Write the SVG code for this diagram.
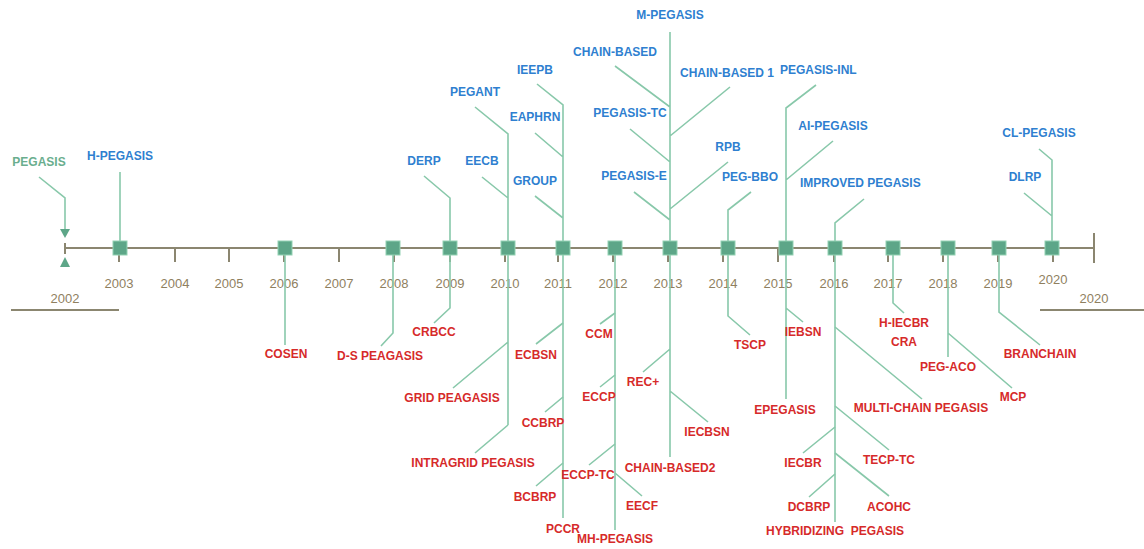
<svg xmlns="http://www.w3.org/2000/svg" width="1144" height="549" viewBox="0 0 1144 549">
  <style>
    text { font-family: "Liberation Sans", Arial, sans-serif; font-weight: bold; font-size: 12px; text-anchor: middle; }
    .b { fill: #2f7fd0; }
    .r { fill: #d62a2a; }
    .g { fill: #6aae8e; }
    .y { fill: #8f7f5f; font-weight: normal; font-size: 13px; }
    .c { fill: none; stroke: #88c8aa; stroke-width: 1.6; }
    .t { fill: none; stroke: #8b8670; stroke-width: 2; }
    .sq { fill: #5da688; stroke: #93d2b3; stroke-width: 1; }
  </style>
  <rect width="1144" height="549" fill="#ffffff"/>

  <!-- time axis -->
  <g id="axis">
    <path class="t" d="M65,248 H1094 M1094,233 V263 M65,243 V254"/>
    <path class="t" d="M119,248 V262 M175,248 V262 M229,248 V262 M284,248 V262 M339,248 V262 M394,248 V262 M450,248 V262 M505,248 V262 M558,248 V262 M613,248 V262 M668,248 V262 M723,248 V262 M778,248 V262 M834,248 V262 M888,248 V262 M943,248 V262 M998,248 V262 M1053,248 V262"/>
    <path class="t" stroke-width="1.6" d="M11,310 H119 M1040,310 H1144"/>
    <text class="y" x="65" y="303">2002</text>
    <text class="y" x="119" y="288">2003</text>
    <text class="y" x="175" y="288">2004</text>
    <text class="y" x="229" y="288">2005</text>
    <text class="y" x="284" y="288">2006</text>
    <text class="y" x="339" y="288">2007</text>
    <text class="y" x="394" y="288">2008</text>
    <text class="y" x="450" y="288">2009</text>
    <text class="y" x="505" y="288">2010</text>
    <text class="y" x="558" y="288">2011</text>
    <text class="y" x="613" y="288">2012</text>
    <text class="y" x="668" y="288">2013</text>
    <text class="y" x="723" y="288">2014</text>
    <text class="y" x="778" y="288">2015</text>
    <text class="y" x="834" y="288">2016</text>
    <text class="y" x="888" y="288">2017</text>
    <text class="y" x="943" y="288">2018</text>
    <text class="y" x="998" y="288">2019</text>
    <text class="y" x="1053" y="284" font-size="11">2020</text>
    <text class="y" x="1094" y="303">2020</text>
  </g>

  <!-- connectors -->
  <g id="connectors">
    <!-- above the axis -->
    <path class="c" d="M39,177 L65,198 V229"/>
    <path class="c" d="M120,172 V248"/>
    <path class="c" d="M424,176 L450,198 V248"/>
    <path class="c" d="M475,107 L508,134 V248 M482,177 L508,198"/>
    <path class="c" d="M537,84 L563,105 V248 M535,133 L563,157 M535,196 L563,218"/>
    <path class="c" d="M670,32 V248 M615,66 L670,107 M730,87 L670,136 M630,129 L670,162 M728,162 L670,209 M634,192 L670,220"/>
    <path class="c" d="M751,192 L728,210 V248"/>
    <path class="c" d="M816,85 L786,108 V248 M833,141 L786,180"/>
    <path class="c" d="M864,199 L835,223 V248"/>
    <path class="c" d="M1039,149 L1052,160 V248 M1024,193 L1052,216"/>
    <!-- below the axis -->
    <path class="c" d="M285,248 V345"/>
    <path class="c" d="M393,248 V333 L381,346"/>
    <path class="c" d="M450,248 V308 L434,323"/>
    <path class="c" d="M508,248 V425 M508,342 L453,388 M508,425 L475,453"/>
    <path class="c" stroke="#6fb895" stroke-width="2" d="M563,248 V518"/>
    <path class="c" d="M563,323 L536,344 M563,397 L545,412 M563,463 L536,486"/>
    <path class="c" stroke="#6fb895" stroke-width="2" d="M615,248 V530"/>
    <path class="c" d="M615,313 L600,324 M615,375 L600,387 M615,444 L589,465 M615,473 L642,496"/>
    <path class="c" d="M670,248 V457 M670,349 L643,372 M670,391 L708,422"/>
    <path class="c" d="M728,248 V316 L750,335"/>
    <path class="c" d="M786,248 V399 M786,308 L803,322"/>
    <path class="c" stroke-width="2" d="M835,248 V522"/>
    <path class="c" d="M835,327 L922,399 M835,406 L889,450 M835,427 L803,453 M835,453 L889,496 M835,474 L809,497"/>
    <path class="c" d="M893,248 V303 L904,313"/>
    <path class="c" d="M948,248 V357 M948,333 L1012,388"/>
    <path class="c" d="M999,248 V312 L1040,345"/>
  </g>

  <!-- start marker of 2002 -->
  <g id="start">
    <polygon points="60,229 70,229 65,238" fill="#5da688"/>
    <polygon points="65,257 70,267 60,267" fill="#5da688"/>
    <text class="g" x="39" y="166">PEGASIS</text>
  </g>

  <!-- year nodes -->
  <g id="y2003"><rect class="sq" x="113" y="241" width="14" height="14"/><text class="b" x="120" y="160">H-PEGASIS</text></g>
  <g id="y2006"><rect class="sq" x="278" y="241" width="14" height="14"/><text class="r" x="286" y="358">COSEN</text></g>
  <g id="y2008"><rect class="sq" x="386" y="241" width="14" height="14"/><text class="r" x="380" y="360">D-S PEAGASIS</text></g>
  <g id="y2009"><rect class="sq" x="443" y="241" width="14" height="14"/>
    <text class="b" x="424" y="165">DERP</text>
    <text class="r" x="434" y="336">CRBCC</text></g>
  <g id="y2010"><rect class="sq" x="501" y="241" width="14" height="14"/>
    <text class="b" x="475" y="96">PEGANT</text>
    <text class="b" x="482" y="165">EECB</text>
    <text class="r" x="452" y="402">GRID PEAGASIS</text>
    <text class="r" x="473" y="467">INTRAGRID PEGASIS</text></g>
  <g id="y2011"><rect class="sq" x="556" y="241" width="14" height="14"/>
    <text class="b" x="535" y="74">IEEPB</text>
    <text class="b" x="535" y="121">EAPHRN</text>
    <text class="b" x="535" y="185">GROUP</text>
    <text class="r" x="536" y="359">ECBSN</text>
    <text class="r" x="543" y="427">CCBRP</text>
    <text class="r" x="535" y="501">BCBRP</text>
    <text class="r" x="563" y="533">PCCR</text></g>
  <g id="y2012"><rect class="sq" x="608" y="241" width="14" height="14"/>
    <text class="r" x="599" y="338">CCM</text>
    <text class="r" x="599" y="401">ECCP</text>
    <text class="r" x="588" y="479">ECCP-TC</text>
    <text class="r" x="642" y="510">EECF</text>
    <text class="r" x="615" y="543">MH-PEGASIS</text></g>
  <g id="y2013"><rect class="sq" x="663" y="241" width="14" height="14"/>
    <text class="b" x="670" y="19">M-PEGASIS</text>
    <text class="b" x="615" y="56">CHAIN-BASED</text>
    <text class="b" x="680" y="77" style="text-anchor:start">CHAIN-BASED 1</text>
    <text class="b" x="630" y="117">PEGASIS-TC</text>
    <text class="b" x="728" y="151">RPB</text>
    <text class="b" x="634" y="180">PEGASIS-E</text>
    <text class="r" x="643" y="386">REC+</text>
    <text class="r" x="707" y="436">IECBSN</text>
    <text class="r" x="670" y="472">CHAIN-BASED2</text></g>
  <g id="y2014"><rect class="sq" x="721" y="241" width="14" height="14"/>
    <text class="b" x="750" y="181">PEG-BBO</text>
    <text class="r" x="750" y="349">TSCP</text></g>
  <g id="y2015"><rect class="sq" x="779" y="241" width="14" height="14"/>
    <text class="b" x="780" y="74" style="text-anchor:start">PEGASIS-INL</text>
    <text class="b" x="833" y="130">AI-PEGASIS</text>
    <text class="r" x="803" y="336">IEBSN</text>
    <text class="r" x="785" y="414">EPEGASIS</text></g>
  <g id="y2016"><rect class="sq" x="828" y="241" width="14" height="14"/>
    <text class="b" x="800" y="187" style="text-anchor:start">IMPROVED PEGASIS</text>
    <text class="r" x="921" y="412">MULTI-CHAIN PEGASIS</text>
    <text class="r" x="889" y="464">TECP-TC</text>
    <text class="r" x="803" y="467">IECBR</text>
    <text class="r" x="889" y="511">ACOHC</text>
    <text class="r" x="809" y="511">DCBRP</text>
    <text class="r" x="835" y="535" xml:space="preserve">HYBRIDIZING  PEGASIS</text></g>
  <g id="y2017"><rect class="sq" x="886" y="241" width="14" height="14"/>
    <text class="r" x="904" y="327">H-IECBR</text>
    <text class="r" x="904" y="346">CRA</text></g>
  <g id="y2018"><rect class="sq" x="941" y="241" width="14" height="14"/>
    <text class="r" x="948" y="371">PEG-ACO</text>
    <text class="r" x="1013" y="401">MCP</text></g>
  <g id="y2019"><rect class="sq" x="992" y="241" width="14" height="14"/>
    <text class="r" x="1040" y="358">BRANCHAIN</text></g>
  <g id="y2020"><rect class="sq" x="1045" y="241" width="14" height="14"/>
    <text class="b" x="1039" y="137">CL-PEGASIS</text>
    <text class="b" x="1025" y="181">DLRP</text></g>
</svg>
